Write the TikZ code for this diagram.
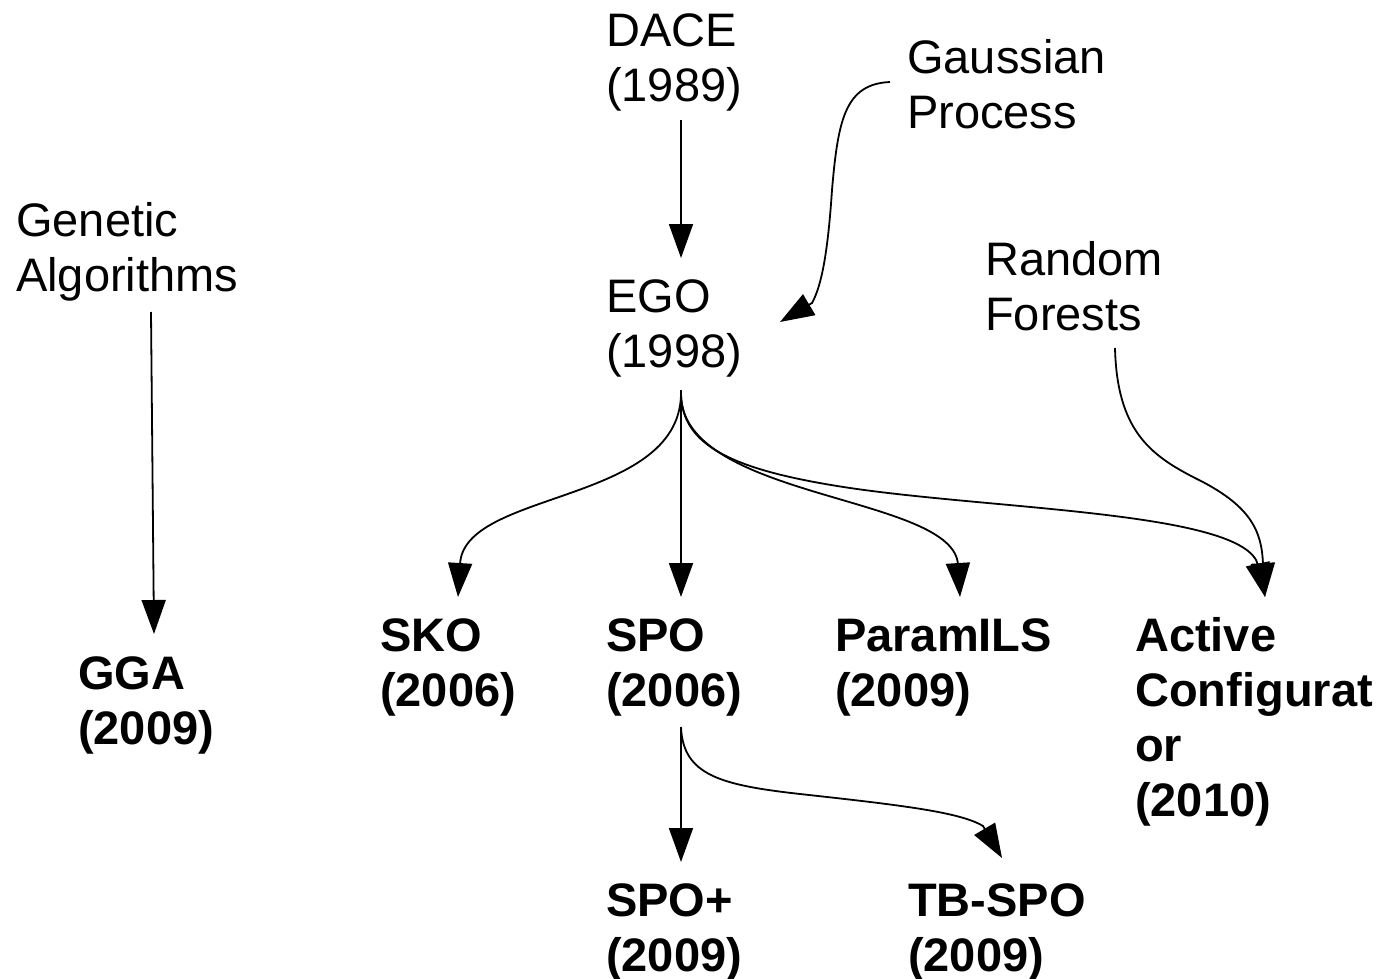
\documentclass[tikz,border=0pt]{standalone}
\usepackage{fontspec}
\setmainfont{Liberation Sans}
\usetikzlibrary{arrows.meta}

\begin{document}
\begin{tikzpicture}[x=1pt,y=-1pt,
  % labels are placed by the baseline of their last line
  lbl/.style={anchor=base west, inner sep=0pt, align=left,
              font=\fontsize{47}{55}\selectfont},
  alg/.style={lbl, font=\fontsize{47}{55}\selectfont\bfseries},
  link/.style={line width=1.8pt, -{Triangle[width=24pt,length=34pt]}},
]
\useasboundingbox (0,0) rectangle (1382,979);

% sources and influences
\node[lbl] (dace) at (606,101.5) {DACE\\(1989)};
\node[lbl] (gp)   at (907,128.5) {Gaussian\\Process};
\node[lbl] (ga)   at (16,291)    {Genetic\\Algorithms};
\node[lbl] (ego)  at (606,367)   {EGO\\(1998)};
\node[lbl] (rf)   at (985,330)   {Random\\Forests};

% configurators
\node[alg] (gga)   at (78,744)   {GGA\\(2009)};
\node[alg] (sko)   at (380,706)  {SKO\\(2006)};
\node[alg] (spo)   at (606,706)  {SPO\\(2006)};
\node[alg] (pils)  at (835,706)  {ParamILS\\(2009)};
\node[alg] (ac)    at (1135,816) {Active\\Configurat\\or\\(2010)};
\node[alg] (spop)  at (606,971)  {SPO+\\(2009)};
\node[alg] (tbspo) at (908,971)  {TB-SPO\\(2009)};

% DACE -> EGO
\draw[link] ([shift={(75,18.5)}]dace.base west) -- ([shift={(75,-109)}]ego.base west);

% Gaussian process -> EGO
\draw[link] ([shift={(-17,-46.5)}]gp.base west)
  .. controls (845,84) and (838,120) .. (832,190)
  .. controls (828,250) and (822,285) .. (812,303)
  -- ([shift={(174,-45)}]ego.base west);

% Genetic algorithms -> GGA
\draw[link] ([shift={(135,21)}]ga.base west) -- ([shift={(76,-110)}]gga.base west);

% EGO -> SPO
\draw[link] ([shift={(75,23)}]ego.base west) -- ([shift={(75,-109)}]spo.base west);

% EGO -> SKO
\draw[link] ([shift={(75,28)}]ego.base west)
  .. controls (678,505) and (462,490) .. (460,565)
  -- ([shift={(78,-109)}]sko.base west);

% EGO -> ParamILS
\draw[link] ([shift={(75,28)}]ego.base west)
  .. controls (683,500) and (955,495) .. (958,565)
  -- ([shift={(125,-109)}]pils.base west);

% EGO -> Active Configurator
\draw[link] ([shift={(75,28)}]ego.base west)
  .. controls (683,445) and (730,470) .. (850,488)
  .. controls (1000,510) and (1245,512) .. (1258,565)
  -- ([shift={(130,-219)}]ac.base west);

% Random forests -> Active Configurator
\draw[link] ([shift={(130,18)}]rf.base west)
  .. controls (1117,430) and (1150,455) .. (1195,478)
  .. controls (1250,505) and (1262,530) .. (1263,565)
  -- ([shift={(130,-219)}]ac.base west);

% SPO -> SPO+
\draw[link] ([shift={(75,21)}]spo.base west) -- ([shift={(75,-109)}]spop.base west);

% SPO -> TB-SPO
\draw[link] ([shift={(75,21)}]spo.base west)
  .. controls (683,775) and (720,785) .. (800,794)
  .. controls (900,805) and (960,812) .. (983,826)
  -- ([shift={(94,-113)}]tbspo.base west);
\end{tikzpicture}
\end{document}
